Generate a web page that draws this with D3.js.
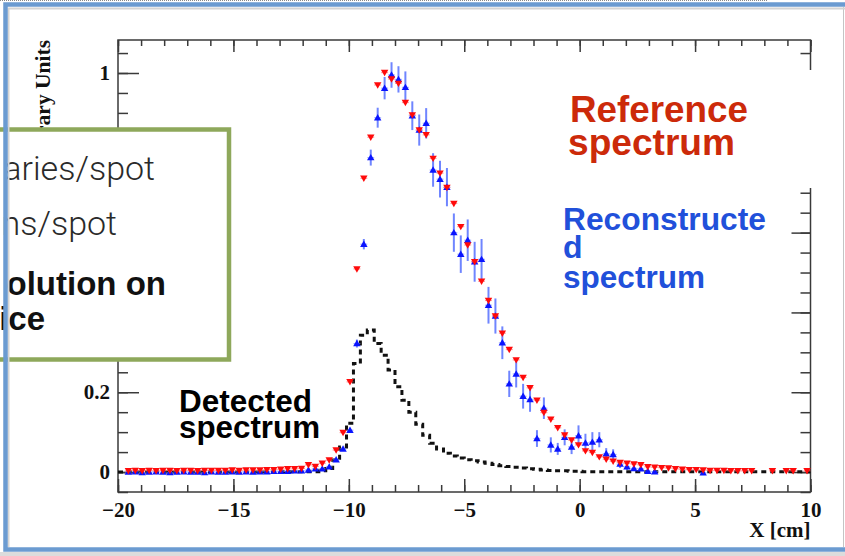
<!DOCTYPE html>
<html>
<head>
<meta charset="utf-8">
<script src="https://cdn.jsdelivr.net/npm/d3@7"></script>
<style>
  html, body { margin: 0; padding: 0; background: #fff; }
  svg { display: block; }
</style>
</head>
<body>
<svg id="chart" width="845" height="556"></svg>
<script>
// Histogram binning: 100 bins of 0.3 cm from -20 cm to 10 cm
const binLow = -20;
const binWidth = 0.3;

// Reference spectrum (red, down triangles), one value per bin; null = empty bin
const referenceSpectrum = [
  null, 0.003, 0.004, 0.003, 0.004, 0.003, 0.004, 0.004, 0.003, 0.004,
  0.004, 0.003, 0.004, 0.004, 0.004, 0.004, 0.005, 0.004, 0.005, 0.005,
  0.005, 0.006, 0.006, 0.007, 0.008, 0.008, 0.009, 0.018, 0.014, 0.022,
  0.030, 0.055, 0.099, 0.226, 0.509, 0.736, 0.839, 0.970, 1.001, 0.985,
  0.974, 0.926, 0.895, 0.857, 0.845, 0.786, 0.749, 0.713, 0.673, 0.615,
  0.569, 0.527, 0.478, 0.430, 0.391, 0.348, 0.307, 0.281, 0.237, 0.211,
  0.180, 0.149, 0.132, 0.111, 0.093, 0.080, 0.068, 0.053, 0.049, 0.038,
  0.032, 0.027, 0.024, 0.022, 0.020, 0.018, 0.013, 0.012, 0.011, 0.010,
  0.008, 0.007, 0.006, 0.006, 0.005, 0.004, 0.004, 0.004, 0.003, 0.003,
  0.003, 0.003, null, null, 0.003, null, 0.003, 0.003, null, 0.003
];

// Reconstructed spectrum (blue, up triangles)
const reconstructedSpectrum = [
  null, 0.000, 0.001, -0.001, 0.000, 0.001, 0.000, -0.001, 0.000, 0.001,
  0.000, 0.000, -0.001, 0.001, 0.000, 0.000, 0.001, 0.000, 0.001, 0.000,
  0.001, 0.001, 0.002, 0.002, 0.002, 0.003, 0.003, 0.005, 0.008, 0.008,
  0.013, 0.031, 0.058, 0.105, 0.322, 0.571, 0.788, 0.888, 0.962, 0.995,
  0.984, 0.964, 0.893, 0.857, 0.874, 0.757, 0.734, 0.714, 0.600, 0.546,
  0.581, 0.527, 0.533, 0.418, 0.391, 0.324, 0.221, 0.246, 0.190, 0.182,
  0.084, 0.160, 0.068, 0.058, 0.087, 0.063, 0.091, 0.073, 0.075, 0.081,
  0.046, 0.044, 0.020, 0.013, 0.009, 0.008, 0.002, 0.001, null, null,
  null, null, null, null, -0.002, null, null, null, null, null,
  null, null, null, null, null, null, null, null, null, null
];

// Statistical uncertainty of the reconstructed spectrum
const reconstructedError = [
  0.002, 0.002, 0.002, 0.002, 0.002, 0.002, 0.002, 0.002, 0.002, 0.002,
  0.002, 0.002, 0.002, 0.002, 0.002, 0.002, 0.002, 0.002, 0.002, 0.002,
  0.002, 0.002, 0.002, 0.002, 0.002, 0.002, 0.002, 0.002, 0.003, 0.003,
  0.003, 0.003, 0.004, 0.006, 0.010, 0.013, 0.020, 0.025, 0.028, 0.032,
  0.033, 0.040, 0.036, 0.039, 0.038, 0.042, 0.046, 0.048, 0.048, 0.047,
  0.052, 0.050, 0.051, 0.046, 0.044, 0.041, 0.033, 0.034, 0.031, 0.031,
  0.021, 0.027, 0.019, 0.015, 0.020, 0.018, 0.026, 0.023, 0.025, 0.019,
  0.014, 0.013, 0.010, 0.008, 0.006, 0.005, 0.003, 0.002, 0, 0,
  0, 0, 0, 0, 0.002, 0, 0, 0, 0, 0,
  0, 0, 0, 0, 0, 0, 0, 0, 0, 0
];

// Detected spectrum (black dashed histogram)
const detectedSpectrum = [
  0, 0, 0, 0, 0, 0, 0, 0, 0, 0,
  0, 0, 0, 0, 0, 0, 0, 0, 0, 0,
  0, 0, 0, 0, 0.001, 0.001, 0.001, 0.001, 0.001, 0.003,
  0.009, 0.030, 0.063, 0.122, 0.272, 0.343, 0.356, 0.322, 0.293, 0.256,
  0.214, 0.180, 0.150, 0.120, 0.092, 0.072, 0.058, 0.047, 0.040, 0.035,
  0.031, 0.028, 0.025, 0.022, 0.019, 0.016, 0.014, 0.012, 0.010, 0.008,
  0.007, 0.005, 0.004, 0.003, 0.003, 0.002, 0.002, 0.001, 0.001, 0.001,
  0.001, 0.001, 0.001, 0.001, 0.001, 0.001, 0.001, 0.001, 0.001, 0.001,
  0.001, 0.001, 0.001, 0.001, 0.001, 0.001, 0.001, 0.001, 0.001, 0.001,
  0.001, 0.001, 0.001, 0.001, 0.001, 0.001, 0.001, 0.001, 0.001, 0.001
];

// Axis ticks and labels
const xMajorTicks = [-20, -15, -10, -5, 0, 5, 10];
const xTickLabels = ["\u221220", "\u221215", "\u221210", "\u22125", "0", "5", "10"];
const yMajorTicks = [0, 0.2, 0.4, 0.6, 0.8, 1];
const yTickLabels = ["0", "0.2", "0.4", "0.6", "0.8", "1"];
const xTitle = "X [cm]";
const yTitle = "Arbitrary Units";

const svg = d3.select("#chart");
const W = 845, H = 556;
const plot = { left: 118, right: 810.5, top: 40, bottom: 492 };
// note box laid over the left part of the slide
const noteBox = { x: -10, y: 129.5, w: 239, h: 230 };

const x = d3.scaleLinear().domain([-20, 10]).range([plot.left, plot.right]);
const y = d3.scaleLinear().domain([-0.05, 1.0827]).range([plot.bottom, plot.top]);

svg.append("rect").attr("width", W).attr("height", H).attr("fill", "#fff");

// ---------- axes (ROOT style: ticks inside on all four sides) ----------
const axisColor = "#3a3a3a";
const tickFont = "'Liberation Serif', 'Times New Roman', serif";
const xMinor = d3.range(-20, 10.001, 1);
const yMinor = d3.range(-0.05, 1.08, 0.05).map(v => +v.toFixed(2));

function styleAxis(g) {
  g.select(".domain").remove();
  g.selectAll(".tick line").attr("stroke", axisColor).attr("stroke-width", 1.5);
}

svg.append("g").attr("transform", `translate(0,${plot.bottom})`)
  .call(d3.axisBottom(x).tickValues(xMinor).tickSize(-7).tickFormat(""))
  .call(styleAxis);
svg.append("g").attr("transform", `translate(0,${plot.bottom})`)
  .call(d3.axisBottom(x).tickValues(xMajorTicks).tickSize(-13).tickPadding(10)
    .tickFormat((d, i) => xTickLabels[i]))
  .call(styleAxis)
  .call(g => g.selectAll("text").attr("font-family", tickFont).attr("font-weight", "bold")
    .attr("font-size", 21).attr("fill", "#111"));

svg.append("g").attr("transform", `translate(0,${plot.top})`)
  .call(d3.axisTop(x).tickValues(xMinor).tickSize(-6).tickFormat(""))
  .call(styleAxis);
svg.append("g").attr("transform", `translate(0,${plot.top})`)
  .call(d3.axisTop(x).tickValues(xMajorTicks).tickSize(-12).tickFormat(""))
  .call(styleAxis);

svg.append("g").attr("transform", `translate(${plot.left},0)`)
  .call(d3.axisLeft(y).tickValues(yMinor).tickSize(-10).tickFormat(""))
  .call(styleAxis);
svg.append("g").attr("transform", `translate(${plot.left},0)`)
  .call(d3.axisLeft(y).tickValues(yMajorTicks).tickSize(-21).tickPadding(8)
    .tickFormat((d, i) => yTickLabels[i]))
  .call(styleAxis)
  .call(g => g.selectAll("text").attr("font-family", tickFont).attr("font-weight", "bold")
    .attr("font-size", 21).attr("fill", "#111"))
  // labels sitting under the note box are not shown
  .call(g => g.selectAll(".tick").filter(d => y(d) > noteBox.y && y(d) < noteBox.y + noteBox.h)
    .select("text").remove());

svg.append("g").attr("transform", `translate(${plot.right},0)`)
  .call(d3.axisRight(y).tickValues(yMinor).tickSize(-10).tickFormat(""))
  .call(styleAxis);
svg.append("g").attr("transform", `translate(${plot.right},0)`)
  .call(d3.axisRight(y).tickValues(yMajorTicks).tickSize(-19).tickFormat(""))
  .call(styleAxis);

svg.append("rect")
  .attr("x", plot.left).attr("y", plot.top)
  .attr("width", plot.right - plot.left).attr("height", plot.bottom - plot.top)
  .attr("fill", "none").attr("stroke", axisColor).attr("stroke-width", 1.5);

// axis titles
svg.append("text")
  .attr("x", plot.right).attr("y", 537)
  .attr("text-anchor", "end")
  .attr("font-family", tickFont).attr("font-weight", "bold").attr("font-size", 21)
  .attr("fill", "#111").text(xTitle);

svg.append("text")
  .attr("transform", `translate(50,${plot.top}) rotate(-90)`)
  .attr("text-anchor", "end")
  .attr("font-family", tickFont).attr("font-weight", "bold").attr("font-size", 21.5)
  .attr("fill", "#111").text(yTitle);

// ---------- data ----------
const binCenter = i => binLow + binWidth * (i + 0.5);
const binEdge = i => binLow + binWidth * i;

// detected spectrum as a dashed step histogram
const stepPts = detectedSpectrum.map((v, i) => [binEdge(i), v]);
stepPts.push([binEdge(detectedSpectrum.length), detectedSpectrum[detectedSpectrum.length - 1]]);
svg.append("path")
  .attr("d", d3.line().x(d => x(d[0])).y(d => y(d[1])).curve(d3.curveStepAfter)(stepPts))
  .attr("fill", "none").attr("stroke", "#111").attr("stroke-width", 3)
  .attr("stroke-dasharray", "5,4");

const recPts = reconstructedSpectrum
  .map((v, i) => ({ x: binCenter(i), v, e: reconstructedError[i] }))
  .filter(d => d.v !== null);
const refPts = referenceSpectrum
  .map((v, i) => ({ x: binCenter(i), v }))
  .filter(d => d.v !== null);

const tri = d3.symbol().type(d3.symbolTriangle).size(24);

// reconstructed: error bars + up triangles
const rec = svg.append("g");
rec.selectAll("line.ey").data(recPts).join("line")
  .attr("x1", d => x(d.x)).attr("x2", d => x(d.x))
  .attr("y1", d => y(d.v - d.e)).attr("y2", d => y(d.v + d.e))
  .attr("stroke", "#3f5cff").attr("stroke-opacity", 0.75).attr("stroke-width", 2);
rec.selectAll("line.ex").data(recPts).join("line")
  .attr("x1", d => x(d.x - binWidth / 2)).attr("x2", d => x(d.x + binWidth / 2))
  .attr("y1", d => y(d.v)).attr("y2", d => y(d.v))
  .attr("stroke", "#6f86ff").attr("stroke-opacity", 0.6).attr("stroke-width", 1.2);
rec.selectAll("path").data(recPts).join("path")
  .attr("d", tri)
  .attr("transform", d => `translate(${x(d.x)},${y(d.v) + 0.6})`)
  .attr("fill", "#0a14ff");

// reference: down triangles
const ref = svg.append("g");
ref.selectAll("line").data(refPts).join("line")
  .attr("x1", d => x(d.x - binWidth / 2)).attr("x2", d => x(d.x + binWidth / 2))
  .attr("y1", d => y(d.v)).attr("y2", d => y(d.v))
  .attr("stroke", "#ff6060").attr("stroke-opacity", 0.6).attr("stroke-width", 1.2);
ref.selectAll("path").data(refPts).join("path")
  .attr("d", tri)
  .attr("transform", d => `translate(${x(d.x)},${y(d.v) - 0.6}) rotate(180)`)
  .attr("fill", "#ff0a0a");

// ---------- annotations ----------
const sans = "'Liberation Sans', Arial, Helvetica, sans-serif";
function label(str, x0, base, size, color, length) {
  const t = svg.append("text")
    .attr("x", x0).attr("y", base)
    .attr("font-family", sans).attr("font-weight", "bold")
    .attr("font-size", size).attr("fill", color).text(str);
  if (length) t.attr("textLength", length).attr("lengthAdjust", "spacingAndGlyphs");
  return t;
}

// white panel behind the reference label
svg.append("rect").attr("x", 548).attr("y", 70).attr("width", 272).attr("height", 118)
  .attr("fill", "#fff");

const red = "#cc2a0a", blue = "#2150da";
label("Reference", 570, 122, 36, red, 178);
label("spectrum", 568, 155, 36, red, 167);
label("Reconstructe", 563, 230, 32, blue, 203);
label("d", 563, 258, 32, blue);
label("spectrum", 563, 288, 32, blue, 142);
label("Detected", 179, 412, 31, "#000", 133);
label("spectrum", 179, 438, 31, "#000", 141);

// green framed note box, partly outside the page
svg.append("rect").attr("x", noteBox.x).attr("y", noteBox.y)
  .attr("width", noteBox.w).attr("height", noteBox.h)
  .attr("fill", "#fff").attr("stroke", "#8ea85b").attr("stroke-width", 4.5);

const light = "Roboto, 'Open Sans', 'Liberation Sans', sans-serif";
[["aries/spot", 155, 180], ["ns/spot", 117, 235]].forEach(([s, xe, b]) => {
  svg.append("text").attr("x", xe).attr("y", b).attr("text-anchor", "end")
    .attr("font-family", light).attr("font-weight", 300).attr("font-size", 34)
    .attr("fill", "#2a2a2a").text(s);
});
[["olution on", 166, 295], ["ice", 45, 330]].forEach(([s, xe, b]) => {
  svg.append("text").attr("x", xe).attr("y", b).attr("text-anchor", "end")
    .attr("font-family", sans).attr("font-weight", "bold").attr("font-size", 33)
    .attr("fill", "#111").text(s);
});

// ---------- page frame ----------
svg.append("line").attr("x1", 0).attr("x2", 767).attr("y1", 0.5).attr("y2", 0.5)
  .attr("stroke", "#888").attr("stroke-width", 1).attr("stroke-dasharray", "1,1");
svg.append("rect").attr("x", 0).attr("y", 552).attr("width", W).attr("height", 4)
  .attr("fill", "#dcdcdc");
svg.append("line").attr("x1", 843.5).attr("x2", 843.5).attr("y1", 7).attr("y2", 547)
  .attr("stroke", "#c4c4c4").attr("stroke-width", 1);
svg.append("line").attr("x1", 8).attr("x2", W).attr("y1", 8.5).attr("y2", 8.5)
  .attr("stroke", "#d4d4d4").attr("stroke-width", 2);
svg.append("line").attr("x1", 8.5).attr("x2", 8.5).attr("y1", 8).attr("y2", 547)
  .attr("stroke", "#d4d4d4").attr("stroke-width", 2);
svg.append("rect").attr("x", 5.5).attr("y", 4.5).attr("width", 860).attr("height", 545)
  .attr("fill", "none").attr("stroke", "#6b9bd1").attr("stroke-width", 4.5);
</script>
</body>
</html>
